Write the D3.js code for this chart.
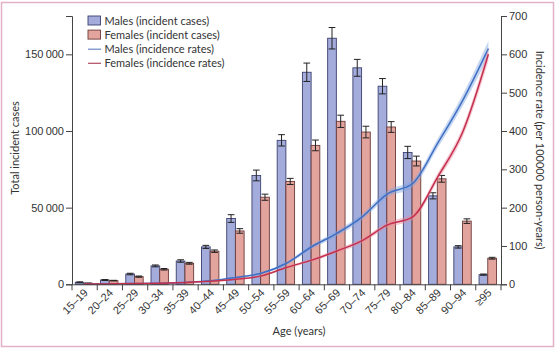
<!DOCTYPE html>
<html>
<head>
<meta charset="utf-8">
<script src="https://cdn.jsdelivr.net/npm/d3@7"></script>
<style>
  body { margin: 0; background: #fff; }
  svg { display: block; font-family: Lato, "Open Sans", sans-serif; }
  .tick text { font-size: 11px; fill: #333; }
</style>
</head>
<body>
<div id="graph"></div>
<script>
//----------------------------------------------------------
// data

var g_ages = ["15–19", "20–24", "25–29", "30–34", "35–39", "40–44", "45–49", "50–54",
              "55–59", "60–64", "65–69", "70–74", "75–79", "80–84", "85–89", "90–94", "≥95"];

var g_male_cases = [1300, 2800, 6700, 12000, 15200, 24400, 42900, 71000,
                    93900, 138300, 160500, 141200, 129200, 86000, 57700, 24400, 6300];
var g_male_err = [300, 300, 500, 600, 800, 1000, 2500, 3500,
                  3700, 6000, 7000, 5500, 5000, 4000, 2000, 800, 400];

var g_female_cases = [650, 2400, 5000, 9800, 13700, 21600, 34800, 56800,
                      67100, 90600, 106300, 99300, 102600, 80400, 68800, 41200, 17000];
var g_female_err = [200, 200, 400, 500, 600, 800, 1500, 2000,
                    2000, 3500, 4000, 3800, 3500, 3200, 2200, 1500, 600];

var g_male_rate = [0.5, 1, 2, 3, 5, 9, 18, 29, 55, 98, 133, 176, 236, 263, 369, 482, 615];
var g_male_rate_ci = [0.5, 0.5, 0.5, 1, 1, 1, 2, 3, 4, 6, 7, 8, 9, 10, 12, 15, 20];

var g_female_rate = [0.5, 1, 2, 3, 5, 8, 13, 22, 44, 63, 87, 114, 155, 176, 281, 400, 600];
var g_female_rate_ci = [0.5, 0.5, 0.5, 1, 1, 1, 2, 2, 3, 4, 5, 6, 7, 8, 10, 13, 18];

var g_left_ticks = [0, 50000, 100000, 150000];
var g_right_ticks = [0, 100, 200, 300, 400, 500, 600, 700];

//----------------------------------------------------------
var g_width = 556, g_height = 348;
var g_left = 72, g_right = 501, g_top = 16, g_bottom = 284.3;

var g_male_fill = "#a3acdb", g_male_edge = "#3d4170";
var g_female_fill = "#e4a49e", g_female_edge = "#6a3a38";
var g_male_line = "#3f6fc4", g_female_line = "#c42f4c";

var g_svg = d3.select("#graph")
  .append("svg")
    .attr("width", g_width)
    .attr("height", g_height);

// pink frame
g_svg.append("rect")
    .attr("x", 1.5).attr("y", 2.5)
    .attr("width", 552).attr("height", 344)
    .attr("fill", "none")
    .attr("stroke", "#e2b1c8")
    .attr("stroke-width", 1.5);

var x = d3.scaleBand()
    .domain(g_ages)
    .range([g_left, g_right]);

var y_cases = d3.scaleLinear()
    .domain([0, 175000])
    .range([g_bottom, g_top]);

var y_rate = d3.scaleLinear()
    .domain([0, 700])
    .range([g_bottom, g_top]);

var fmt = function (v) {
    return d3.format(",d")(v).replace(/,/g, "\u2009");
};

//----------------------------------------------------------
// bars
function DrawBars(values, errors, offset, width, fill, edge) {
    var g = g_svg.append("g");

    g.selectAll("rect")
      .data(values)
      .join("rect")
        .attr("x", function (d, i) { return x(g_ages[i]) + offset; })
        .attr("y", function (d) { return y_cases(d); })
        .attr("width", width)
        .attr("height", function (d) { return g_bottom - y_cases(d); })
        .attr("fill", fill)
        .attr("stroke", edge)
        .attr("stroke-width", 0.9);

    var eb = g.selectAll("g.err")
      .data(values)
      .join("g")
        .attr("class", "err")
        .attr("stroke", "#222")
        .attr("stroke-width", 1);

    var cx = function (i) { return x(g_ages[i]) + offset + width / 2; };

    eb.append("line")
        .attr("x1", function (d, i) { return cx(i); })
        .attr("x2", function (d, i) { return cx(i); })
        .attr("y1", function (d, i) { return y_cases(d - errors[i]); })
        .attr("y2", function (d, i) { return y_cases(d + errors[i]); });

    [-1, 1].forEach(function (s) {
        eb.append("line")
            .attr("x1", function (d, i) { return cx(i) - width / 2 + 1; })
            .attr("x2", function (d, i) { return cx(i) + width / 2 - 1; })
            .attr("y1", function (d, i) { return y_cases(d + s * errors[i]); })
            .attr("y2", function (d, i) { return y_cases(d + s * errors[i]); });
    });
}

DrawBars(g_male_cases, g_male_err, 3.3, 8.7, g_male_fill, g_male_edge);
DrawBars(g_female_cases, g_female_err, 12, 8.7, g_female_fill, g_female_edge);

//----------------------------------------------------------
// incidence rate lines
function DrawRate(values, ci, colour, band_colour) {
    var cx = function (i) { return x(g_ages[i]) + x.bandwidth() / 2; };

    var area = d3.area()
        .curve(d3.curveMonotoneX)
        .x(function (d, i) { return cx(i); })
        .y0(function (d, i) { return y_rate(d - ci[i]); })
        .y1(function (d, i) { return y_rate(d + ci[i]); });

    var line = d3.line()
        .curve(d3.curveMonotoneX)
        .x(function (d, i) { return cx(i); })
        .y(function (d) { return y_rate(d); });

    g_svg.append("path")
        .datum(values)
        .attr("d", area)
        .attr("fill", band_colour)
        .attr("fill-opacity", 0.45);

    g_svg.append("path")
        .datum(values)
        .attr("d", line)
        .attr("fill", "none")
        .attr("stroke", colour)
        .attr("stroke-width", 1.5);
}

DrawRate(g_male_rate, g_male_rate_ci, g_male_line, "#7fa3e0");
DrawRate(g_female_rate, g_female_rate_ci, g_female_line, "#e88aa0");

//----------------------------------------------------------
// axes
var left_axis = g_svg.append("g")
    .attr("transform", "translate(" + g_left + ",0)")
    .call(d3.axisLeft(y_cases).tickValues(g_left_ticks).tickFormat(fmt).tickSize(6).tickPadding(2));

var right_axis = g_svg.append("g")
    .attr("transform", "translate(" + g_right + ",0)")
    .call(d3.axisRight(y_rate).tickValues(g_right_ticks).tickSize(6).tickPadding(2));

var bottom_axis = g_svg.append("g")
    .attr("transform", "translate(0," + g_bottom + ")")
    .call(d3.axisBottom(x).tickValues([]).tickSizeOuter(0));

[left_axis, right_axis, bottom_axis].forEach(function (a) {
    a.selectAll("path, line").attr("stroke", "#444");
    a.select(".domain").attr("stroke", "#444");
});

// bottom ticks at band boundaries
bottom_axis.selectAll("line.bound")
  .data(g_ages.concat(["end"]))
  .join("line")
    .attr("class", "bound")
    .attr("x1", function (d, i) { return g_left + i * x.bandwidth(); })
    .attr("x2", function (d, i) { return g_left + i * x.bandwidth(); })
    .attr("y1", 0)
    .attr("y2", 6)
    .attr("stroke", "#444");

bottom_axis.selectAll("text.age")
  .data(g_ages)
  .join("text")
    .attr("class", "age")
    .attr("text-anchor", "end")
    .attr("font-size", "11px")
    .attr("fill", "#333")
    .attr("transform", function (d) {
        return "translate(" + (x(d) + x.bandwidth() / 2 + 4) + ",9) rotate(-45)";
    })
    .text(function (d) { return d; });

// axis titles
g_svg.append("text")
    .attr("x", 299).attr("y", 335)
    .attr("text-anchor", "middle")
    .attr("font-size", "11px")
    .attr("fill", "#333")
    .text("Age (years)");

g_svg.append("text")
    .attr("transform", "translate(19,148) rotate(-90)")
    .attr("text-anchor", "middle")
    .attr("font-size", "11px")
    .attr("fill", "#333")
    .text("Total incident cases");

g_svg.append("text")
    .attr("transform", "translate(536,150) rotate(90)")
    .attr("text-anchor", "middle")
    .attr("font-size", "11px")
    .attr("fill", "#333")
    .text("Incidence rate (per 100000 person-years)");

//----------------------------------------------------------
// legend
var g_legend = [
    { name: "Males (incident cases)", kind: "box", fill: g_male_fill, edge: g_male_edge },
    { name: "Females (incident cases)", kind: "box", fill: g_female_fill, edge: g_female_edge },
    { name: "Males (incidence rates)", kind: "line", edge: "#6a88c4" },
    { name: "Females (incidence rates)", kind: "line", edge: "#b34a63" }
];

var legend = g_svg.append("g")
  .selectAll("g")
  .data(g_legend)
  .join("g")
    .attr("transform", function (d, i) { return "translate(88," + (21 + i * 14.1) + ")"; });

legend.filter(function (d) { return d.kind === "box"; })
  .append("rect")
    .attr("x", 0).attr("y", -5)
    .attr("width", 12.5).attr("height", 9)
    .attr("fill", function (d) { return d.fill; })
    .attr("stroke", function (d) { return d.edge; })
    .attr("stroke-width", 0.9);

legend.filter(function (d) { return d.kind === "line"; })
  .append("line")
    .attr("x1", 0).attr("x2", 13)
    .attr("y1", 0).attr("y2", 0)
    .attr("stroke", function (d) { return d.edge; })
    .attr("stroke-width", 1.2);

legend.append("text")
    .attr("x", 16.5).attr("y", 3.8)
    .attr("font-size", "11px")
    .attr("fill", "#333")
    .text(function (d) { return d.name; });
</script>
</body>
</html>
